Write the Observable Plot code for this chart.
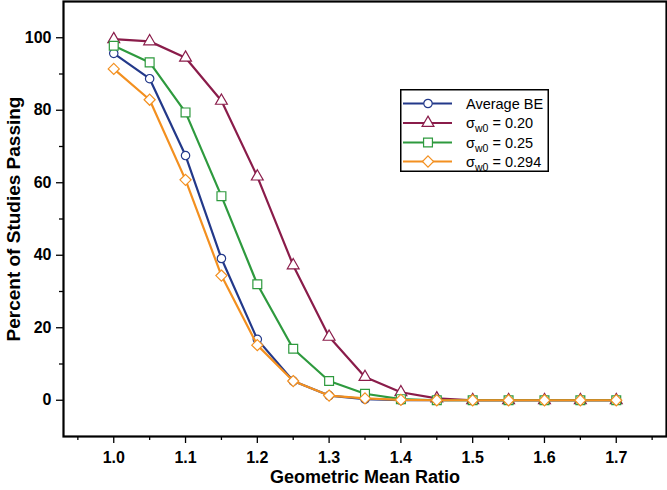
<!DOCTYPE html>
<html>
<head>
<meta charset="utf-8">
<script src="https://cdn.jsdelivr.net/npm/d3@7"></script>
<script src="https://cdn.jsdelivr.net/npm/@observablehq/plot@0.6"></script>
<style>
  html, body { margin: 0; padding: 0; background: #fff; }
  #chart { position: relative; width: 667px; height: 490px; font-family: "Liberation Sans", Arial, sans-serif; }
  #legend { position: absolute; left: 400px; top: 89px; }
  #chart g[aria-label="x-axis tick label"], #chart g[aria-label="y-axis tick label"] { font-size: 16px; font-weight: bold; }
</style>
</head>
<body>
<div id="chart"></div>
<script>
// ---- data ----
const ratios = [1.00, 1.05, 1.10, 1.15, 1.20, 1.25, 1.30, 1.35, 1.40, 1.45, 1.50, 1.55, 1.60, 1.65, 1.70];
const avgBE  = [95.7, 88.7, 67.5, 39.1, 16.8, 5.3, 1.3, 0.3, 0.0, 0.0, 0.0, 0.0, 0.0, 0.0, 0.0];
const sw020  = [99.6, 99.0, 94.5, 82.6, 61.7, 37.2, 17.5, 6.4, 2.2, 0.5, 0.0, 0.0, 0.0, 0.0, 0.0];
const sw025  = [97.8, 93.2, 79.4, 56.3, 32.0, 14.2, 5.3, 1.8, 0.3, 0.0, 0.0, 0.0, 0.0, 0.0, 0.0];
const sw0294 = [91.4, 82.9, 60.8, 34.4, 15.2, 5.3, 1.3, 0.5, 0.1, 0.0, 0.0, 0.0, 0.0, 0.0, 0.0];

const seriesNames = ["Average BE", "0.20", "0.25", "0.294"];
const seriesColors = ["#23398a", "#8a1c4a", "#2e9a3e", "#f39020"];
const seriesSymbols = ["circle", "triangle", "square", "diamond2"];
const seriesR = [4.2, 4.4, 5.0, 5.0];

const xMajor = [1.0, 1.1, 1.2, 1.3, 1.4, 1.5, 1.6, 1.7];
const xMinor = [0.95, 1.05, 1.15, 1.25, 1.35, 1.45, 1.55, 1.65, 1.75];
const yMajor = [0, 20, 40, 60, 80, 100];
const yMinor = [10, 30, 50, 70, 90];

const xLabel = "Geometric Mean Ratio";
const yLabel = "Percent of Studies Passing";

// ---- build ----
const allValues = [avgBE, sw020, sw025, sw0294];
const rows = allValues.map((vals, s) => ratios.map((r, i) => ({ratio: r, value: vals[i], s})));

const seriesMarks = rows.flatMap((data, s) => [
  Plot.line(data, {x: "ratio", y: "value", stroke: seriesColors[s], strokeWidth: 2.2}),
  Plot.dot(data, {x: "ratio", y: "value", symbol: () => seriesSymbols[s], r: seriesR[s],
    fill: "white", stroke: seriesColors[s], strokeWidth: 1.2})
]);

const plot = Plot.plot({
  width: 667,
  height: 490,
  marginLeft: 63,
  marginRight: 1,
  marginTop: 1,
  marginBottom: 54,
  style: {fontFamily: "'Liberation Sans', Arial, sans-serif", background: "white", color: "black"},
  symbol: {type: "identity"},
  x: {domain: [0.93, 1.77], label: null},
  y: {domain: [-10, 110], label: null},
  marks: [
    Plot.axisX({ticks: xMajor, tickSize: 7, tickPadding: 8, tickFormat: d3.format(".1f"),
      fontSize: 16, fontWeight: "bold", label: null, strokeWidth: 1.3}),
    Plot.axisX({ticks: xMinor, tickSize: 4, tickFormat: () => "", label: null, strokeWidth: 1.3}),
    Plot.axisY({ticks: yMajor, tickSize: 7, tickPadding: 5, fontSize: 16, fontWeight: "bold",
      label: null, strokeWidth: 1.3}),
    Plot.axisY({ticks: yMinor, tickSize: 4, tickFormat: () => "", label: null, strokeWidth: 1.3}),
    ...seriesMarks,
    Plot.frame({stroke: "black", strokeWidth: 2.2}),
    Plot.text([xLabel], {text: d => d, frameAnchor: "bottom", lineAnchor: "middle", dy: 41,
      fontSize: 18, fontWeight: "bold"}),
    Plot.text([yLabel], {text: d => d, frameAnchor: "left", textAnchor: "middle", lineAnchor: "middle",
      rotate: -90, dx: -50, fontSize: 19, fontWeight: "bold"})
  ]
});
document.getElementById("chart").appendChild(plot);

// ---- legend ----
const legendW = 149, legendH = 83;
const leg = d3.select("#chart").append("svg")
  .attr("id", "legend")
  .attr("width", legendW).attr("height", legendH)
  .style("font-family", "'Liberation Sans', Arial, sans-serif");
leg.append("rect").attr("x", 0.75).attr("y", 0.75).attr("width", legendW - 1.5).attr("height", legendH - 1.5)
  .attr("fill", "white").attr("stroke", "black").attr("stroke-width", 1.5);
const symMap = {circle: d3.symbolCircle, triangle: d3.symbolTriangle, square: d3.symbolSquare, diamond2: d3.symbolDiamond2};
const rowY = [14.5, 34, 53.5, 72.5];
seriesNames.forEach((name, s) => {
  const g = leg.append("g").attr("transform", `translate(0,${rowY[s]})`);
  g.append("line").attr("x1", 3).attr("x2", 52).attr("y1", 0).attr("y2", 0)
    .attr("stroke", seriesColors[s]).attr("stroke-width", 2.2);
  g.append("path").attr("transform", "translate(28,0)")
    .attr("d", d3.symbol(symMap[seriesSymbols[s]], Math.PI * seriesR[s] * seriesR[s])())
    .attr("fill", "white").attr("stroke", seriesColors[s]).attr("stroke-width", 1.2);
  const t = g.append("text").attr("x", 66).attr("y", 5).attr("font-size", 14.5);
  if (s === 0) {
    t.text(name);
  } else {
    t.append("tspan").text("σ");
    t.append("tspan").attr("font-size", 10.5).attr("dy", 4).text("w0");
    t.append("tspan").attr("dy", -4).text(" = " + name);
  }
});
</script>
</body>
</html>
